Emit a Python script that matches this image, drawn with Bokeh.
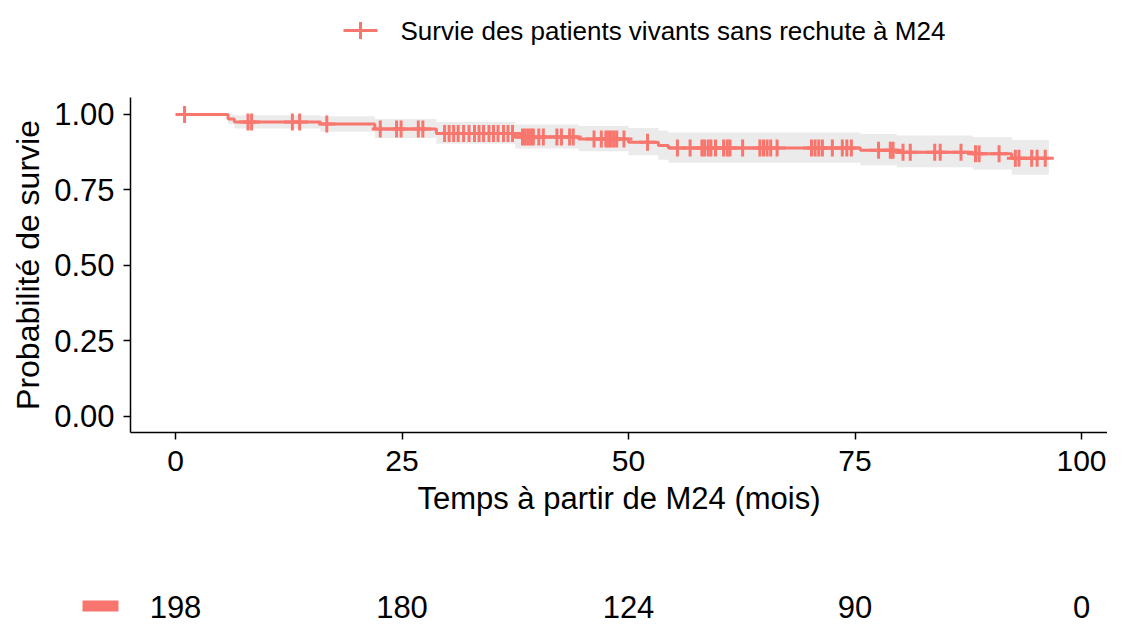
from bokeh.plotting import figure
from bokeh.layouts import column
from bokeh.models import Range1d, FixedTicker, PrintfTickFormatter
from bokeh.embed import file_html
from bokeh.resources import INLINE
from bokeh.core.properties import value

# ---------------- data ----------------
event_times = [0.0, 5.8, 6.5, 16.0, 22.0, 28.8, 37.5, 44.5, 50.0, 53.3, 54.4, 75.6, 79.6, 88.0, 92.3]
surv        = [1.000, 0.985, 0.975, 0.968, 0.952, 0.937, 0.925, 0.919, 0.908, 0.897, 0.889, 0.881, 0.875, 0.870, 0.855]
upper       = [1.000, 1.000, 0.997, 0.994, 0.985, 0.975, 0.967, 0.962, 0.955, 0.947, 0.940, 0.935, 0.930, 0.925, 0.915]
lower       = [1.000, 0.968, 0.953, 0.943, 0.922, 0.903, 0.887, 0.878, 0.865, 0.850, 0.840, 0.832, 0.825, 0.818, 0.800]
end_time = 96.4
censor_times = [1.0, 8.0, 8.4, 12.9, 13.7, 16.7, 22.6, 24.4, 24.9, 26.8, 27.3,
                29.7, 30.2, 30.7, 31.2, 31.8, 32.4, 33.0, 33.5, 34.0, 34.6, 35.1, 35.6, 36.2, 36.7, 37.2,
                38.3, 38.6, 38.9, 39.2, 39.5, 40.1, 40.6, 42.1, 42.6, 43.5, 43.9,
                46.2, 47.0, 47.5, 47.8, 48.1, 48.4, 48.7, 49.5, 52.1,
                55.4, 56.8, 58.1, 58.4, 58.8, 59.1, 59.6, 60.5, 60.9, 61.2, 62.6,
                64.5, 64.9, 65.3, 65.7, 66.4, 70.2, 70.6, 71.0, 71.4, 72.5, 73.6, 74.1, 74.6,
                77.6, 78.9, 79.2, 80.3, 81.1, 83.8, 84.4, 86.7, 88.3, 88.7, 90.9,
                92.7, 93.1, 94.5, 95.1, 96.0]
risk_times = [0, 25, 50, 75, 100]
risk_counts = [198, 180, 124, 90, 0]
x_ticks = [0, 25, 50, 75, 100]
y_ticks = [0.0, 0.25, 0.50, 0.75, 1.00]
legend_label = "Survie des patients vivants sans rechute à M24"
x_title = "Temps à partir de M24 (mois)"
y_title = "Probabilité de survie"

# ---------------- style / layout constants (pixels) ----------------
COL = "#F8766D"
BAND = "#EBEBEB"
FONT = "Liberation Sans"
W = 1107
LEFT = 130                 # left edge of plot panel
PX0, PX100 = 175, 1081     # pixel of t=0 and t=100
SCALE = (PX100 - PX0) / 100.0
X0 = -(PX0 - LEFT) / SCALE
X1 = (W - PX0) / SCALE
H_TOP, H_MAIN = 97, 435
H_RISK = 628 - H_TOP - H_MAIN

def bare(fig):
    fig.grid.visible = False
    fig.outline_line_color = None
    return fig

# ---------------- legend strip ----------------
ft = bare(figure(width=W, height=H_TOP, x_range=Range1d(0, W), y_range=Range1d(0, H_TOP),
                 output_backend="svg", toolbar_location=None, min_border=0,
                 x_axis_location=None, y_axis_location=None, frame_align=False))
ly = H_TOP - 30
ft.line(x=[343, 377], y=[ly, ly], line_color=COL, line_width=3)
ft.scatter(x=[360], y=[ly], marker="cross", size=17, line_color=COL, line_width=3)
ft.text(x=[400], y=[ly], text=[legend_label], text_font=value(FONT), text_font_size="26px",
        text_baseline="middle", text_align="left", text_color="black")

# ---------------- main plot ----------------
fm = bare(figure(width=W, height=H_MAIN, x_range=Range1d(X0, X1), y_range=Range1d(-0.053, 1.056),
                 output_backend="svg", toolbar_location=None, frame_align=False,
                 min_border_left=LEFT, min_border_right=0, min_border_top=0,
                 min_border_bottom=H_MAIN - 335))

# confidence band as steps
bx, blo, bhi = [], [], []
n = len(event_times)
for i in range(n):
    t0 = event_times[i]
    t1 = event_times[i + 1] if i + 1 < n else end_time
    bx += [t0, t1]
    blo += [lower[i], lower[i]]
    bhi += [upper[i], upper[i]]
fm.varea(x=bx, y1=blo, y2=bhi, fill_color=BAND, fill_alpha=1.0)

# survival step curve
fm.step(x=event_times + [end_time], y=surv + [surv[-1]], mode="after", line_color=COL, line_width=3)

# censor marks
def s_at(t):
    v = surv[0]
    for tt, ss in zip(event_times, surv):
        if tt <= t:
            v = ss
    return v
cy = [s_at(t) for t in censor_times]
fm.scatter(x=censor_times, y=cy, marker="cross", size=17, line_color=COL, line_width=3)

for ax in (fm.xaxis, fm.yaxis):
    ax.axis_line_color = "black"
    ax.axis_line_width = 1.5
    ax.major_tick_line_color = "black"
    ax.major_tick_line_width = 1.5
    ax.major_tick_out = 7
    ax.major_tick_in = 0
    ax.minor_tick_line_color = None
    ax.major_label_text_font = FONT
    ax.major_label_text_color = "black"
    ax.axis_label_text_font = FONT
    ax.axis_label_text_font_style = "normal"
    ax.axis_label_text_color = "black"

fm.xaxis.major_label_text_font_size = "30px"
fm.yaxis.major_label_text_font_size = "31px"
fm.xaxis.axis_label_text_font_size = "31px"
fm.yaxis.axis_label_text_font_size = "32px"
fm.xaxis.ticker = FixedTicker(ticks=x_ticks)
fm.yaxis.ticker = FixedTicker(ticks=y_ticks)
fm.yaxis.formatter = PrintfTickFormatter(format="%.2f")
fm.xaxis.major_label_standoff = 11
fm.yaxis.major_label_standoff = 9
fm.xaxis.axis_label = x_title
fm.yaxis.axis_label = y_title
fm.xaxis.axis_label_standoff = 7
fm.yaxis.axis_label_standoff = 5

# ---------------- risk table ----------------
fr = bare(figure(width=W, height=H_RISK, x_range=Range1d(-PX0 / SCALE, (W - PX0) / SCALE),
                 y_range=Range1d(0, H_RISK), output_backend="svg", toolbar_location=None,
                 min_border=0, x_axis_location=None, y_axis_location=None, frame_align=False))
ry = H_RISK - (606 - H_TOP - H_MAIN)
fr.text(x=risk_times, y=[ry] * len(risk_times), text=[str(c) for c in risk_counts],
        text_font=value(FONT), text_font_size="31px", text_align="center",
        text_baseline="middle", text_color="black")
kx0 = (82 - PX0) / SCALE
kx1 = (118 - PX0) / SCALE
fr.quad(left=[kx0], right=[kx1], bottom=[ry - 5], top=[ry + 6], fill_color=COL, line_color=None)

layout = column(ft, fm, fr, spacing=0)
open("out.html", "w").write(file_html(layout, INLINE))
